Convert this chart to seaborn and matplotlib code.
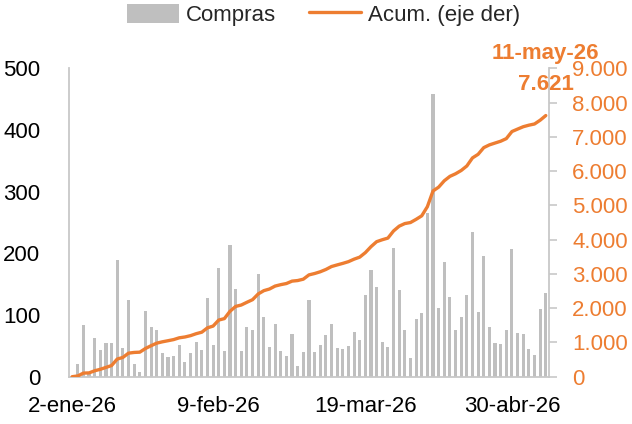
import numpy as np
import pandas as pd
import matplotlib
matplotlib.use("Agg")
import matplotlib.pyplot as plt
from matplotlib.patches import Patch
from matplotlib.lines import Line2D
from matplotlib.ticker import FuncFormatter, MultipleLocator
import seaborn as sns

# ---- data ----
compras = [0, 21, 84, 6, 62, 43, 55, 55, 189, 47,
           125, 21, 8, 107, 81, 75, 39, 32, 33, 52,
           24, 39, 57, 44, 127, 51, 176, 42, 214, 142,
           41, 80, 76, 167, 96, 48, 86, 41, 33, 70,
           17, 40, 125, 40, 51, 67, 86, 47, 45, 50,
           73, 59, 132, 173, 146, 57, 48, 208, 140, 76,
           30, 93, 103, 266, 459, 112, 186, 129, 75, 96,
           132, 235, 105, 195, 80, 54, 53, 76, 207, 71,
           69, 45, 35, 110, 136]
tick_labels = ["2-ene-26", "9-feb-26", "19-mar-26", "30-abr-26"]
tick_index = [0, 26, 52, 78]
last_label = "11-may-26"

idx = np.arange(len(compras))
acum = np.cumsum(compras)
df = pd.DataFrame({"i": idx, "Compras": compras, "Acum": acum})

GRAY = "#BFBFBF"
AXIS = "#C8C8C8"
ORANGE = "#ED7D31"

sns.set_style("white")
plt.rcParams["font.family"] = ["Liberation Sans", "DejaVu Sans"]
plt.rcParams["font.size"] = 16

fig = plt.figure(figsize=(6.32, 4.24), dpi=100)
ax = fig.add_axes([69.3 / 632, 1 - 376.7 / 424, (548.6 - 69.3) / 632, (376.7 - 68.3) / 424])

sns.barplot(data=df, x="i", y="Compras", ax=ax, color=GRAY, saturation=1,
            width=0.55, linewidth=0, errorbar=None)
ax.set_xlim(-0.5, len(compras) - 0.5)
ax.set_ylim(0, 500)
ax.yaxis.set_major_locator(MultipleLocator(100))
ax.set_xticks(tick_index)
ax.set_xticklabels(tick_labels)
ax.set_xlabel("")
ax.set_ylabel("")
ax.tick_params(axis="y", length=0, pad=21, labelsize=16, labelcolor="black")
ax.tick_params(axis="x", length=0, pad=14, labelsize=16, labelcolor="black")
for s in ["top", "right"]:
    ax.spines[s].set_visible(False)
for s in ["left", "bottom"]:
    ax.spines[s].set_color(AXIS)
    ax.spines[s].set_linewidth(1.3)

ax2 = ax.twinx()
sns.lineplot(data=df, x="i", y="Acum", ax=ax2, color=ORANGE, linewidth=2.4)
ax2.set_xlim(-0.5, len(compras) - 0.5)
ax2.set_ylim(0, 9000)
ax2.yaxis.set_major_locator(MultipleLocator(1000))
ax2.yaxis.set_major_formatter(FuncFormatter(lambda v, p: f"{int(v):,}".replace(",", ".")))
ax2.set_ylabel("")
ax2.set_xlabel("")
ax2.tick_params(axis="y", direction="out", length=6, width=1.2, color=AXIS,
                pad=11, labelsize=16, labelcolor=ORANGE)
for s in ["top", "left", "bottom"]:
    ax2.spines[s].set_visible(False)
ax2.spines["right"].set_color(AXIS)
ax2.spines["right"].set_linewidth(1.3)

ax2.annotate(last_label, xy=(idx[-1], acum[-1]), xytext=(0, 45), textcoords="offset points",
             ha="center", va="center", color=ORANGE, fontsize=16, fontweight="bold")
ax2.annotate(f"{acum[-1]:,}".replace(",", "."), xy=(idx[-1], acum[-1]), xytext=(0, 22.5),
             textcoords="offset points", ha="center", va="center", color=ORANGE,
             fontsize=16, fontweight="bold")

handles = [Patch(facecolor=GRAY, edgecolor="none"), Line2D([0], [0], color=ORANGE, linewidth=2.4)]
fig.legend(handles, ["Compras", "Acum. (eje der)"], loc="center", bbox_to_anchor=(0.512, 0.965),
           ncol=2, frameon=False, fontsize=16, handlelength=2.35, handleheight=1.0,
           handletextpad=0.3, columnspacing=1.5, borderaxespad=0)

fig.savefig("out.png", dpi=100)
